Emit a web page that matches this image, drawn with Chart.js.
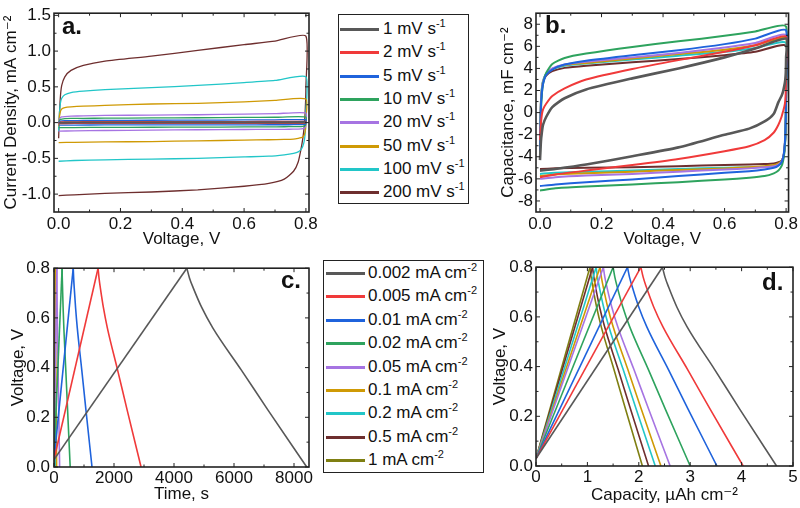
<!DOCTYPE html>
<html><head><meta charset="utf-8">
<script src="https://cdn.jsdelivr.net/npm/chart.js@4.4.0/dist/chart.umd.min.js"></script>
<style>
body{margin:0;background:#fff;width:800px;height:508px;overflow:hidden;position:relative;font-family:"Liberation Sans","DejaVu Sans",Arial,sans-serif;color:#111}
canvas{position:absolute}
.lg{position:absolute;border:1.5px solid #222;background:#fff;box-sizing:border-box}
.row{position:absolute;left:0;height:20px;font-size:17px;line-height:20px;white-space:nowrap}
.sw{position:absolute;height:3px}
.row sup{font-size:11px;position:relative;top:-1px;vertical-align:top;line-height:11px}
.pl{position:absolute;font-weight:bold;font-size:24px;line-height:24px}
</style></head>
<body>
<canvas id="ca" width="320" height="254" style="left:0;top:0"></canvas>
<canvas id="cb" width="310" height="254" style="left:490px;top:0"></canvas>
<canvas id="cc" width="320" height="254" style="left:0;top:254px"></canvas>
<canvas id="cd" width="310" height="254" style="left:490px;top:254px"></canvas>
<div class="lg" id="lg1" style="left:338px;top:14px;width:131px;height:190px"></div>
<div class="lg" id="lg2" style="left:323px;top:260px;width:161px;height:213px"></div>
<div class="pl" style="left:62px;top:14px">a.</div>
<div class="pl" style="left:545px;top:13px">b.</div>
<div class="pl" style="left:281px;top:268px">c.</div>
<div class="pl" style="left:762px;top:270px">d.</div>
<script>
// ---------- categories ----------
const cvRates = ['1','2','5','10','20','50','100','200'];           // mV s-1
const gcdCurrents = ['0.002','0.005','0.01','0.02','0.05','0.1','0.2','0.5','1']; // mA cm-2

// ---------- tick labels ----------
const ticksAx = [0,0.2,0.4,0.6,0.8];
const ticksAy = [-1.0,-0.5,0.0,0.5,1.0,1.5];
const ticksBx = [0,0.2,0.4,0.6,0.8];
const ticksBy = [-8,-6,-4,-2,0,2,4,6,8];
const ticksCx = [0,2000,4000,6000,8000];
const ticksCy = [0,0.2,0.4,0.6,0.8];
const ticksDx = [0,1,2,3,4,5];
const ticksDy = [0,0.2,0.4,0.6,0.8];

// ---------- CV voltage path (forward sweep then reverse sweep), V ----------
const cvV = [0,0.003,0.006,0.01,0.02,0.04,0.08,0.15,0.3,0.45,0.6,0.7,0.8,
             0.8,0.799,0.797,0.794,0.79,0.785,0.775,0.76,0.73,0.68,0.6,0.45,0.3,0.15,0.05,0];

// ---------- panel a: current density, mA cm-2 ----------
const jA_1   = [-0.004,0.001,0.003,0.004,0.005,0.005,0.006,0.007,0.008,0.009,0.010,0.011,0.012, 0.004,0.0,-0.002,-0.003,-0.003,-0.004,-0.004,-0.004,-0.005,-0.005,-0.005,-0.005,-0.005,-0.005,-0.005,-0.006];
const jA_2   = [-0.003,0.004,0.007,0.009,0.010,0.011,0.012,0.012,0.013,0.014,0.015,0.016,0.017, 0.003,-0.003,-0.006,-0.008,-0.009,-0.010,-0.010,-0.011,-0.011,-0.011,-0.012,-0.012,-0.012,-0.012,-0.012,-0.013];
const jA_5   = [-0.005,0.015,0.022,0.025,0.027,0.028,0.030,0.031,0.033,0.035,0.037,0.039,0.040, 0.0,-0.015,-0.022,-0.025,-0.026,-0.027,-0.028,-0.029,-0.030,-0.030,-0.031,-0.032,-0.033,-0.033,-0.034,-0.034];
const jA_10  = [-0.01,0.03,0.045,0.05,0.055,0.058,0.06,0.062,0.065,0.068,0.072,0.075,0.078, 0.0,-0.03,-0.045,-0.05,-0.053,-0.055,-0.056,-0.057,-0.058,-0.06,-0.061,-0.063,-0.065,-0.067,-0.069,-0.07];
const jA_20  = [-0.02,0.05,0.07,0.08,0.085,0.09,0.095,0.1,0.105,0.11,0.12,0.125,0.135, 0.0,-0.05,-0.07,-0.08,-0.085,-0.088,-0.09,-0.092,-0.094,-0.095,-0.096,-0.1,-0.105,-0.11,-0.115,-0.12];
const jA_50  = [-0.05,0.1,0.16,0.19,0.21,0.22,0.23,0.24,0.26,0.27,0.29,0.31,0.33, 0.05,-0.08,-0.14,-0.18,-0.2,-0.21,-0.22,-0.23,-0.235,-0.24,-0.245,-0.255,-0.265,-0.27,-0.275,-0.28];
const jA_100 = [-0.12,0.15,0.28,0.34,0.39,0.42,0.44,0.46,0.49,0.52,0.56,0.59,0.64, 0.15,-0.05,-0.18,-0.27,-0.33,-0.37,-0.41,-0.43,-0.45,-0.47,-0.48,-0.5,-0.51,-0.52,-0.53,-0.54];
const jA_200 = [-0.22,0.15,0.38,0.52,0.64,0.73,0.8,0.86,0.93,1.01,1.09,1.14,1.21, 0.5,0.3,0.1,-0.08,-0.22,-0.35,-0.55,-0.68,-0.79,-0.85,-0.89,-0.94,-0.97,-0.99,-1.01,-1.02];

// ---------- panel b: capacitance, mF cm-2 ----------
const cB_1   = [-4.3,-2.6,-1.8,-1.1,-0.4,0.5,1.3,2.1,3.1,4.0,5.0,5.8,6.7, 5.0,3.6,2.9,2.4,1.9,1.5,0.95,-0.1,-0.8,-1.45,-2.0,-3.15,-3.95,-4.7,-5.1,-5.26];
const cB_2   = [-2.5,-1.0,-0.2,0.3,0.8,1.5,2.2,3.0,3.95,4.75,5.5,6.1,6.9, 4.0,2.0,1.0,0.5,0.1,-0.4,-1.1,-1.8,-2.5,-3.05,-3.5,-4.2,-4.75,-5.25,-5.6,-5.85];
const cB_5   = [-3.5,0.5,1.8,2.6,3.4,3.9,4.35,4.7,5.2,5.65,6.2,6.7,7.45, 2.0,-0.3,-2.2,-3.4,-4.1,-4.5,-4.8,-5.0,-5.15,-5.3,-5.45,-5.75,-6.05,-6.3,-6.5,-6.65];
const cB_10  = [-4.0,0.0,1.6,2.6,3.6,4.4,4.95,5.35,5.95,6.45,6.95,7.35,7.8, 2.0,-0.5,-2.6,-3.7,-4.4,-4.85,-5.25,-5.5,-5.75,-5.9,-6.05,-6.3,-6.5,-6.7,-6.85,-7.05];
const cB_20  = [-3.2,0.8,2.0,2.8,3.5,4.0,4.35,4.6,5.0,5.4,5.9,6.3,7.0, 1.8,-0.5,-2.4,-3.5,-4.1,-4.45,-4.7,-4.85,-4.95,-5.05,-5.15,-5.35,-5.55,-5.7,-5.85,-6.0];
const cB_50  = [-3.0,0.8,2.0,2.8,3.45,3.95,4.3,4.5,4.9,5.3,5.7,6.1,6.7, 1.8,-0.5,-2.4,-3.5,-4.1,-4.4,-4.6,-4.75,-4.85,-4.95,-5.05,-5.2,-5.35,-5.5,-5.6,-5.75];
const cB_100 = [-2.5,1.0,2.2,2.9,3.5,3.95,4.25,4.45,4.8,5.15,5.5,5.85,6.3, 1.5,-0.7,-2.5,-3.6,-4.2,-4.5,-4.7,-4.8,-4.9,-4.95,-5.0,-5.1,-5.25,-5.35,-5.45,-5.55];
const cB_200 = [-2.0,1.0,2.1,2.8,3.35,3.75,4.05,4.25,4.55,4.85,5.2,5.5,6.05, 1.5,-0.6,-2.4,-3.5,-4.1,-4.35,-4.5,-4.6,-4.65,-4.7,-4.75,-4.85,-4.95,-5.0,-5.05,-5.1];

// ---------- galvanostatic charge/discharge: voltage points, V ----------
// index 0-1: charge, index 1-8: discharge
const gcdV = [0.03,0.8,0.76,0.72,0.64,0.56,0.39,0.23,0];
// panel c: time, s
const tC_0002 = [0,4428,4518,4644,4932,5292,6246,7128,8424];
const tC_0005 = [0,1469,1501,1546,1649,1778,2120,2437,2902];
const tC_001  = [0,641,655,675,720,776,926,1064,1267];
const tC_002  = [0,270,276,285,304,328,393,453,540];
const tC_005  = [0,94.3,96.4,99.4,106.1,114.6,136.9,157.6,187.9];
const tC_01   = [0,44.8,45.8,47.1,50.2,54.0,64.2,73.7,87.5];
const tC_02   = [0,21.1,21.5,22.2,23.7,25.5,30.5,35.0,41.8];
const tC_05   = [0,7.9,8.1,8.3,8.9,9.6,11.5,13.2,15.8];
const tC_1    = [0,3.8,3.9,4.0,4.2,4.6,5.5,6.3,7.5];
// panel d: capacity, uAh cm-2
const qD_0002 = [0,2.46,2.51,2.58,2.74,2.94,3.47,3.96,4.68];
const qD_0005 = [0,2.04,2.085,2.147,2.29,2.47,2.945,3.385,4.03];
const qD_001  = [0,1.78,1.819,1.874,1.999,2.156,2.572,2.956,3.52];
const qD_002  = [0,1.5,1.534,1.581,1.689,1.824,2.183,2.514,3.0];
const qD_005  = [0,1.31,1.339,1.38,1.474,1.591,1.902,2.189,2.61];
const qD_01   = [0,1.245,1.272,1.309,1.394,1.501,1.784,2.046,2.43];
const qD_02   = [0,1.17,1.196,1.232,1.315,1.418,1.693,1.947,2.32];
const qD_05   = [0,1.1,1.125,1.159,1.237,1.335,1.596,1.837,2.19];
const qD_1    = [0,1.05,1.073,1.105,1.179,1.27,1.514,1.74,2.07];

// ---------- styles ----------
const cvColors = ['#585858','#f03a3a','#1f63dc','#2ea35e','#a674e2','#cf9a05','#22c6c8','#6e2e2e'];
const gcdColors = ['#585858','#f03a3a','#1f63dc','#2ea35e','#a674e2','#cf9a05','#22c6c8','#6e2e2e','#7f7f12'];

const jA = [jA_1,jA_2,jA_5,jA_10,jA_20,jA_50,jA_100,jA_200];
const cB = [cB_1,cB_2,cB_5,cB_10,cB_20,cB_50,cB_100,cB_200];
const tC = [tC_0002,tC_0005,tC_001,tC_002,tC_005,tC_01,tC_02,tC_05,tC_1];
const qD = [qD_0002,qD_0005,qD_001,qD_002,qD_005,qD_01,qD_02,qD_05,qD_1];

const FAM = "'Liberation Sans','DejaVu Sans',Arial,sans-serif";
const F = {family:FAM, size:17};

const framePlugin = {
  id:'frame',
  afterDatasetsDraw(chart){
    const {ctx, chartArea:{left,right,top,bottom}, scales:{x,y}} = chart;
    ctx.save();
    ctx.strokeStyle = '#222';
    ctx.lineWidth = 1;
    const seg = (a,b,c,d)=>{ctx.beginPath();ctx.moveTo(a,b);ctx.lineTo(c,d);ctx.stroke();};
    const xs = x.ticks.map(t=>t.value), ys = y.ticks.map(t=>t.value);
    xs.forEach((v,i)=>{
      const p = x.getPixelForValue(v);
      seg(p,bottom,p,bottom-4); seg(p,top,p,top+4);
      if(i<xs.length-1){const m=x.getPixelForValue((v+xs[i+1])/2); seg(m,bottom,m,bottom-2.5); seg(m,top,m,top+2.5);}
    });
    ys.forEach((v,i)=>{
      const p = y.getPixelForValue(v);
      seg(left,p,left+4,p); seg(right,p,right-4,p);
      if(i<ys.length-1){const m=y.getPixelForValue((v+ys[i+1])/2); seg(left,m,left+2.5,m); seg(right,m,right-2.5,m);}
    });
    ctx.lineWidth = 1.6;
    ctx.strokeRect(left,top,right-left,bottom-top);
    ctx.restore();
  }
};

function panel(id, datasets, o){
  return new Chart(document.getElementById(id), {
    type:'scatter',
    data:{datasets},
    options:{
      responsive:false, animation:false, devicePixelRatio:1,
      layout:{padding:{top:o.pt, right:o.pr, left:0, bottom:0}},
      plugins:{legend:{display:false}, tooltip:{enabled:false}},
      elements:{point:{radius:0}, line:{tension:o.tension||0}},
      scales:{
        x:{type:'linear', min:o.xmin, max:o.xmax,
           afterBuildTicks:s=>{s.ticks=o.xt.map(v=>({value:v}));},
           afterFit:s=>{s.height=o.xh;},
           ticks:{font:F, color:'#111', padding:o.xtp, maxRotation:0, autoSkip:false, callback:o.xf},
           grid:{display:false, drawTicks:false}, border:{display:false},
           title:{display:true, text:o.xtitle, font:F, color:'#111', padding:{top:0,bottom:o.xpb}}},
        y:{type:'linear', min:o.ymin, max:o.ymax,
           afterBuildTicks:s=>{s.ticks=o.yt.map(v=>({value:v}));},
           afterFit:s=>{s.width=o.yw;},
           ticks:{font:F, color:'#111', padding:o.ytp, autoSkip:false, callback:o.yf},
           grid:{display:false, drawTicks:false}, border:{display:false},
           title:{display:true, text:o.ytitle, font:F, color:'#111', padding:{top:o.ypt,bottom:0}}}
      }
    },
    plugins:[framePlugin]
  });
}

const f1 = v=>Number(v).toFixed(1);
const f0 = v=>String(Math.round(v));

// GCD: straight charge segment + smooth (monotone) discharge segment per series
function gcdSets(xs){
  const out = [];
  xs.forEach((s,i)=>{
    const pts = s.map((x,k)=>({x, y:gcdV[k]}));
    out.push({data:pts.slice(1), showLine:true, borderColor:gcdColors[i], borderWidth:1.6, fill:false, cubicInterpolationMode:'monotone', order:i});
    out.push({data:pts.slice(0,2), showLine:true, borderColor:gcdColors[i], borderWidth:1.6, fill:false, order:i});
  });
  return out;
}

panel('ca', jA.map((s,i)=>({data:cvV.map((v,k)=>({x:v,y:s[k]})), showLine:true, borderColor:cvColors[i], borderWidth:1.3, fill:false})),
  {xmin:-0.015,xmax:0.81,ymin:-1.25,ymax:1.53,xt:ticksAx,yt:ticksAy,xf:f1,yf:f1,tension:0.2,
   pt:5,pr:11,xh:42,yw:54,xtp:2,ytp:3,xpb:4,ypt:1,
   xtitle:'Voltage, V', ytitle:'Current Density, mA cm\u207B\u00B2'});

panel('cb', cB.map((s,i)=>({data:cvV.map((v,k)=>({x:v,y:s[k]})), showLine:true, borderColor:cvColors[i], borderWidth:i===0?2.6:2, fill:false})),
  {xmin:-0.013,xmax:0.808,ymin:-9,ymax:9,xt:ticksBx,yt:ticksBy,xf:f1,yf:f0,tension:0.2,
   pt:8,pr:8,xh:42,yw:46,xtp:2,ytp:3,xpb:4,ypt:8,
   xtitle:'Voltage, V', ytitle:'Capacitance, mF cm\u207B\u00B2'});

panel('cc', gcdSets(tC),
  {xmin:0,xmax:8500,ymin:0,ymax:0.8,xt:ticksCx,yt:ticksCy,xf:f0,yf:f1,
   pt:9,pr:11,xh:41,yw:54,xtp:1,ytp:4,xpb:3,ypt:8,
   xtitle:'Time, s', ytitle:'Voltage, V'});

panel('cd', gcdSets(qD),
  {xmin:0,xmax:5,ymin:0,ymax:0.8,xt:ticksDx,yt:ticksDy,xf:f0,yf:f1,
   pt:9,pr:7,xh:42,yw:46,xtp:1,ytp:3,xpb:2,ypt:0,
   xtitle:'Capacity, \u00B5Ah cm\u207B\u00B2', ytitle:'Voltage, V'});

// ---------- legends ----------
function legend(boxId, labels, unit, sup, colors, y0, dy, x0, x1, tx){
  const box = document.getElementById(boxId);
  labels.forEach((lab,i)=>{
    const r = document.createElement('div');
    r.className='row';
    r.style.top = (y0 + i*dy - 10) + 'px';
    r.style.width = '100%';
    r.innerHTML = '<span class="sw" style="left:'+x0+'px;width:'+(x1-x0)+'px;top:9px;background:'+colors[i]+'"></span>'+
                  '<span style="position:absolute;left:'+tx+'px">'+lab+' '+unit+'<sup>'+sup+'</sup></span>';
    box.appendChild(r);
  });
}
legend('lg1', cvRates, 'mV s', '-1', cvColors, 14, 23.3, 1, 40, 44);
legend('lg2', gcdCurrents, 'mA cm', '-2', gcdColors, 12, 23.4, 2, 41, 44);
</script>
</body></html>
